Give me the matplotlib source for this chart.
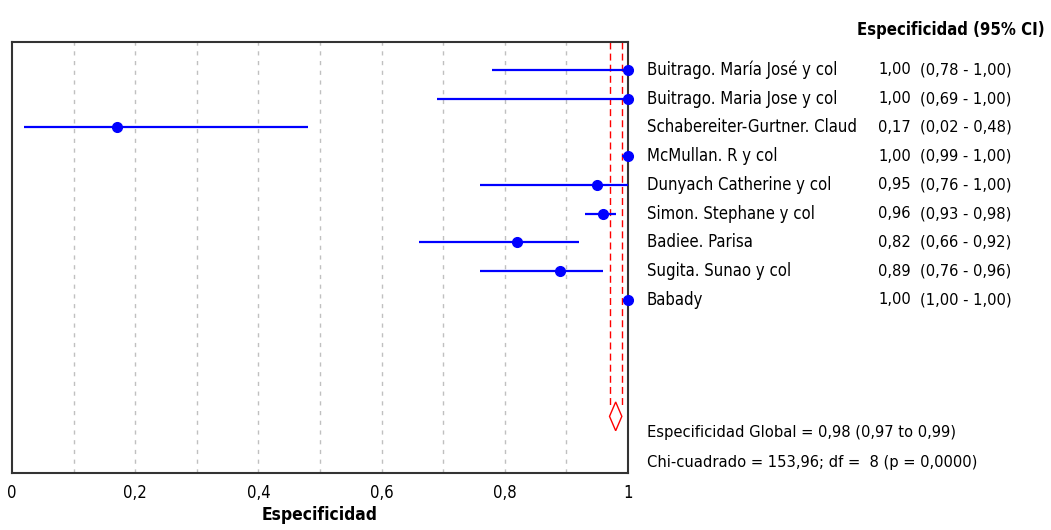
import numpy as np
import matplotlib
matplotlib.use("Agg")
import matplotlib.pyplot as plt
import matplotlib.transforms as mtransforms
from matplotlib.patches import Polygon

plt.rcParams['font.family'] = ['DejaVu Sans']
plt.rcParams['font.stretch'] = 'condensed'

# datos de los estudios
estudios = ["Buitrago. María José y col", "Buitrago. Maria Jose y col",
            "Schabereiter-Gurtner. Claud", "McMullan. R y col",
            "Dunyach Catherine y col", "Simon. Stephane y col",
            "Badiee. Parisa", "Sugita. Sunao y col", "Babady"]
espec = [1.00, 1.00, 0.17, 1.00, 0.95, 0.96, 0.82, 0.89, 1.00]
ic_inf = [0.78, 0.69, 0.02, 0.99, 0.76, 0.93, 0.66, 0.76, 1.00]
ic_sup = [1.00, 1.00, 0.48, 1.00, 1.00, 0.98, 0.92, 0.96, 1.00]

# estimacion global
global_est = 0.98
global_inf = 0.97
global_sup = 0.99
chi2 = 153.96
df = 8
p_val = 0.0000

xticks = [0, 0.2, 0.4, 0.6, 0.8, 1]
xtick_labels = ["0", "0,2", "0,4", "0,6", "0,8", "1"]


def coma(v, d=2):
    return f"{v:.{d}f}".replace(".", ",")


W, H = 1051, 530
fig = plt.figure(figsize=(W / 100, H / 100), dpi=100)
ax = fig.add_axes([12 / W, 57 / H, 616 / W, 431 / H])

y = np.arange(len(estudios))

# lineas de cuadricula verticales
for g in np.arange(0.1, 0.95, 0.1):
    ax.axvline(g, color='#c0c0c0', linestyle=(0, (3, 4)), linewidth=1, zorder=0)

# intervalos y puntos
ax.hlines(y, ic_inf, ic_sup, color='blue', linewidth=1.6, zorder=3, clip_on=False)
ax.plot(espec, y, 'o', color='blue', markersize=7, zorder=4, clip_on=False)

# lineas de la estimacion global
y_top = -0.97
y_rombo_top = 11.55
y_rombo_bot = 12.55
y_rombo_mid = (y_rombo_top + y_rombo_bot) / 2
for xv in (global_inf, global_sup):
    ax.plot([xv, xv], [y_top, y_rombo_top + 0.15], color='red',
            linestyle=(0, (5, 3)), linewidth=1, zorder=2)
rombo = Polygon([[global_est, y_rombo_top], [global_sup, y_rombo_mid],
                 [global_est, y_rombo_bot], [global_inf, y_rombo_mid]],
                closed=True, fill=False, edgecolor='red', linewidth=1, zorder=3)
ax.add_patch(rombo)

ax.set_xlim(0, 1)
ax.set_ylim(14.02, y_top)
ax.set_yticks([])
ax.set_xticks(xticks)
ax.set_xticklabels(xtick_labels, fontsize=12)
ax.tick_params(axis='x', length=0, pad=8)
ax.set_xlabel("Especificidad", fontsize=12.5, fontweight='bold', labelpad=3)
for s in ax.spines.values():
    s.set_color('#333333')
    s.set_linewidth(1.5)

# textos a la derecha (x en figura, y en datos)
tr = mtransforms.blended_transform_factory(fig.transFigure, ax.transData)
for i in range(len(estudios)):
    fig.text(647 / W, i, estudios[i], transform=tr, fontsize=12, va='center', ha='left')
    fig.text(878 / W, i, coma(espec[i]), transform=tr, fontsize=11.8, va='center', ha='left')
    fig.text(920 / W, i, f"({coma(ic_inf[i])} - {coma(ic_sup[i])})", transform=tr,
             fontsize=11.8, va='center', ha='left')

fig.text(1045 / W, 1 - 30 / H, "Especificidad (95% CI)", fontsize=12,
         fontweight='bold', ha='right', va='center')

fig.text(647 / W, 1 - 433 / H,
         f"Especificidad Global = {coma(global_est)} ({coma(global_inf)} to {coma(global_sup)})",
         fontsize=11.8, ha='left', va='center')
fig.text(647 / W, 1 - 462 / H,
         f"Chi-cuadrado = {coma(chi2)}; df =  {df} (p = {coma(p_val, 4)})",
         fontsize=11.8, ha='left', va='center')

fig.savefig("out.png", dpi=100)
